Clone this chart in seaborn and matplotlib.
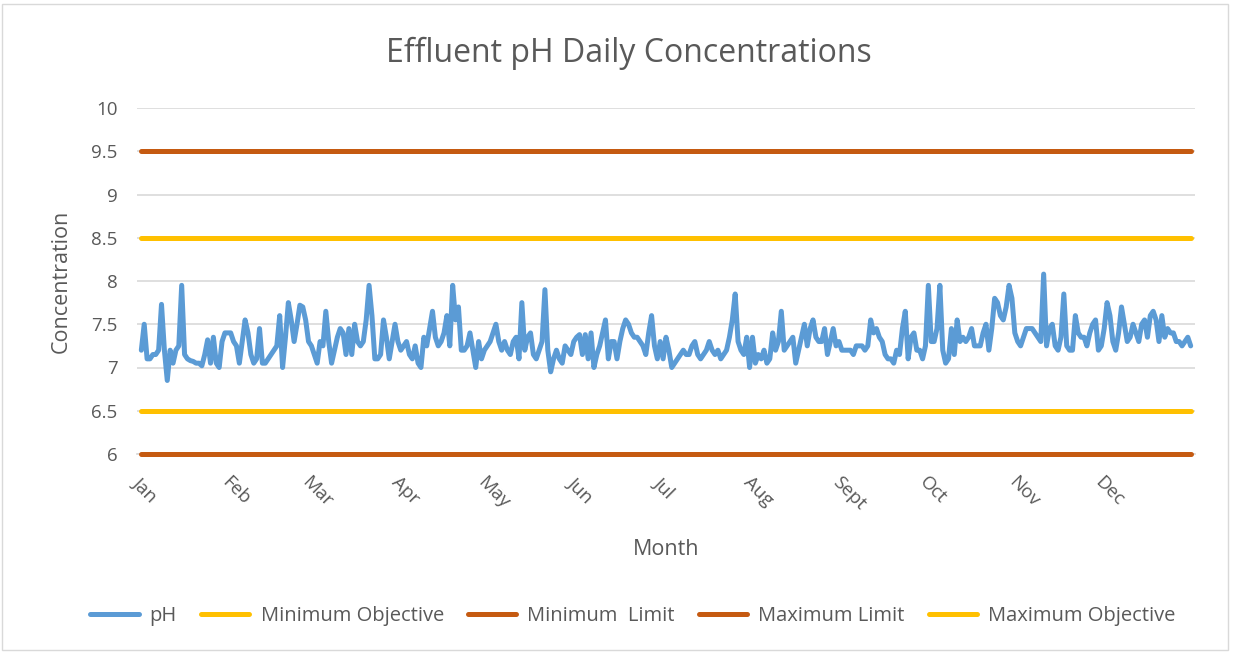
import numpy as np
import pandas as pd
import matplotlib
matplotlib.use("Agg")
import matplotlib.pyplot as plt
import seaborn as sns

# ---- data ----
months = ["Jan", "Feb", "Mar", "Apr", "May", "Jun", "Jul", "Aug", "Sept", "Oct", "Nov", "Dec"]
month_days = [31, 28, 31, 30, 31, 30, 31, 31, 30, 31, 30, 31]

ph_jan = [7.2, 7.5, 7.1, 7.1, 7.15, 7.15, 7.2, 7.73, 7.2, 6.85, 7.2, 7.05, 7.2, 7.25, 7.95, 7.15,
          7.1, 7.08, 7.07, 7.05, 7.05, 7.02, 7.15, 7.32, 7.05, 7.35, 7.05, 7.0, 7.3, 7.4, 7.4]
ph_feb = [7.4, 7.3, 7.25, 7.05, 7.3, 7.55, 7.4, 7.15, 7.05, 7.1, 7.45, 7.05, 7.05, 7.1, 7.15, 7.2,
          7.25, 7.6, 7.0, 7.35, 7.75, 7.55, 7.3, 7.5, 7.72, 7.7, 7.55, 7.3]
ph_mar = [7.25, 7.15, 7.05, 7.3, 7.25, 7.65, 7.3, 7.05, 7.2, 7.35, 7.45, 7.4, 7.15, 7.45, 7.15, 7.5,
          7.3, 7.25, 7.3, 7.55, 7.95, 7.6, 7.1, 7.1, 7.15, 7.55, 7.35, 7.1, 7.3, 7.5, 7.3]
ph_apr = [7.2, 7.25, 7.3, 7.15, 7.1, 7.25, 7.05, 7.0, 7.35, 7.25, 7.45, 7.65, 7.35, 7.25, 7.3, 7.4,
          7.6, 7.25, 7.95, 7.55, 7.7, 7.2, 7.2, 7.25, 7.4, 7.2, 7.0, 7.3, 7.1, 7.2]
ph_may = [7.25, 7.3, 7.4, 7.5, 7.3, 7.2, 7.3, 7.2, 7.15, 7.3, 7.35, 7.1, 7.75, 7.2, 7.35, 7.4,
          7.15, 7.1, 7.2, 7.3, 7.9, 7.2, 6.95, 7.1, 7.2, 7.1, 7.05, 7.25, 7.2, 7.15, 7.3]
ph_jun = [7.35, 7.38, 7.15, 7.38, 7.1, 7.4, 7.0, 7.15, 7.25, 7.4, 7.55, 7.1, 7.3, 7.3, 7.1, 7.3,
          7.45, 7.55, 7.5, 7.4, 7.35, 7.35, 7.3, 7.25, 7.15, 7.4, 7.6, 7.25, 7.1, 7.3]
ph_jul = [7.1, 7.35, 7.2, 7.0, 7.05, 7.1, 7.15, 7.2, 7.15, 7.15, 7.25, 7.3, 7.15, 7.1, 7.15, 7.2,
          7.3, 7.2, 7.15, 7.2, 7.1, 7.15, 7.2, 7.35, 7.55, 7.85, 7.3, 7.2, 7.15, 7.35, 7.0]
ph_aug = [7.35, 7.05, 7.15, 7.1, 7.2, 7.05, 7.1, 7.4, 7.2, 7.3, 7.65, 7.2, 7.25, 7.3, 7.35, 7.05,
          7.2, 7.35, 7.5, 7.25, 7.45, 7.55, 7.35, 7.3, 7.3, 7.45, 7.15, 7.3, 7.45, 7.25, 7.3]
ph_sep = [7.2, 7.2, 7.2, 7.2, 7.15, 7.25, 7.25, 7.25, 7.2, 7.25, 7.55, 7.4, 7.45, 7.35, 7.3, 7.15,
          7.1, 7.1, 7.05, 7.2, 7.15, 7.45, 7.65, 7.1, 7.35, 7.4, 7.2, 7.2, 7.1, 7.25]
ph_oct = [7.95, 7.3, 7.3, 7.45, 7.95, 7.2, 7.05, 7.1, 7.45, 7.15, 7.55, 7.3, 7.35, 7.3, 7.35, 7.45,
          7.25, 7.25, 7.25, 7.4, 7.5, 7.2, 7.45, 7.8, 7.75, 7.6, 7.55, 7.7, 7.95, 7.8, 7.4]
ph_nov = [7.3, 7.25, 7.35, 7.45, 7.45, 7.45, 7.4, 7.35, 7.3, 8.08, 7.25, 7.45, 7.5, 7.25, 7.2, 7.35,
          7.85, 7.25, 7.2, 7.2, 7.6, 7.4, 7.35, 7.35, 7.25, 7.4, 7.5, 7.55, 7.2, 7.25]
ph_dec = [7.45, 7.75, 7.6, 7.3, 7.2, 7.4, 7.7, 7.5, 7.3, 7.35, 7.5, 7.4, 7.3, 7.5, 7.55, 7.35,
          7.6, 7.65, 7.55, 7.3, 7.6, 7.35, 7.45, 7.4, 7.4, 7.3, 7.3, 7.25, 7.3, 7.35, 7.25]

min_objective = 6.5
min_limit = 6.0
max_limit = 9.5
max_objective = 8.5

ph = (ph_jan + ph_feb + ph_mar + ph_apr + ph_may + ph_jun + ph_jul + ph_aug
      + ph_sep + ph_oct + ph_nov + ph_dec)
n = len(ph)
day = np.arange(n)
df = pd.DataFrame({
    "day": day,
    "pH": ph,
    "Minimum Objective": [min_objective] * n,
    "Minimum  Limit": [min_limit] * n,
    "Maximum Limit": [max_limit] * n,
    "Maximum Objective": [max_objective] * n,
})
month_starts = np.cumsum([0] + month_days[:-1])

# ---- styling ----
sns.set_theme(style="white")
plt.rcParams["font.family"] = ["Open Sans", "DejaVu Sans"]
txt = "#595959"
blue, yellow, orange = "#5B9BD5", "#FFC000", "#C55A11"

fig = plt.figure(figsize=(12.36, 6.52), dpi=100)
ax = fig.add_axes([137 / 1236, 1 - 454 / 652, (1195 - 137) / 1236, (454 - 108) / 652])

series = [("pH", blue, 3.6), ("Minimum Objective", yellow, 3.6),
          ("Minimum  Limit", orange, 3.6), ("Maximum Limit", orange, 3.6),
          ("Maximum Objective", yellow, 3.6)]
for name, col, lw in series:
    sns.lineplot(data=df, x="day", y=name, ax=ax, color=col, lw=lw, label=name,
                 solid_capstyle="round", zorder=3, clip_on=False)

ax.set_xlim(-1.5, n + 0.5)
ax.set_ylim(6, 10)
ax.set_yticks(np.arange(6, 10.01, 0.5))
ax.set_yticklabels(["6", "6.5", "7", "7.5", "8", "8.5", "9", "9.5", "10"])
ax.yaxis.grid(True, color="#D9D9D9", lw=1.2, zorder=0)
ax.xaxis.grid(False)
for s in ["top", "right", "left"]:
    ax.spines[s].set_visible(False)
ax.spines["bottom"].set_color("#D9D9D9")
ax.tick_params(axis="y", length=0, labelsize=13.5, labelcolor=txt, pad=14)
ax.set_xticks(month_starts)
ax.set_xticklabels(months, rotation=-45, ha="left", va="top", rotation_mode="anchor")
ax.tick_params(axis="x", length=0, labelsize=13.5, labelcolor=txt, pad=14)
for lab in ax.get_xticklabels():
    lab.set_rotation_mode("anchor")

ax.set_xlabel("Month", fontsize=15.5, color=txt, labelpad=18)
ax.set_ylabel("Concentration", fontsize=15.5, color=txt, labelpad=14)

fig.text(629 / 1236, 1 - 53 / 652, "Effluent pH Daily Concentrations", fontsize=23,
         color=txt, ha="center", va="center")

leg = ax.legend(loc="center", bbox_to_anchor=(633 / 1236, 1 - 616 / 652),
                bbox_transform=fig.transFigure, ncol=5, frameon=False, fontsize=14.5,
                handlelength=2.4, handletextpad=0.55, columnspacing=1.2)
for t in leg.get_texts():
    t.set_color(txt)

fig.patches.append(plt.Rectangle((2 / 1236, 2 / 652), 1226 / 1236, 646 / 652,
                                 transform=fig.transFigure, fill=False,
                                 edgecolor="#D9D9D9", lw=1))
fig.savefig("out.png", dpi=100, facecolor="white")
